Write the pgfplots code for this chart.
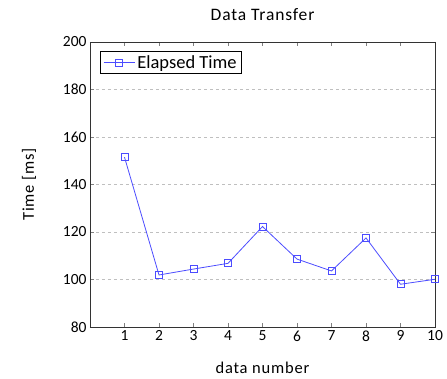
\documentclass[border=0pt]{standalone}
\usepackage{fontspec}
\setmainfont{Carlito}
\newfontfamily\widefont{Carlito}[LetterSpace=5]
\usepackage{pgfplots}
\pgfplotsset{compat=1.18}
\begin{document}
\begin{tikzpicture}
\path[use as bounding box] (-90pt,-51pt) rectangle (357pt,327pt);
\begin{axis}[
  at={(0,0)}, anchor=south west,
  scale only axis,
  width=345pt, height=285pt,
  xmin=0, xmax=10, ymin=80, ymax=200,
  xtick={1,...,10},
  ytick={80,100,...,200},
  ymajorgrids,
  major grid style={dashed, gray!50},
  title={Data Transfer},
  xlabel={data number},
  ylabel={Time [ms]},
  /pgf/number format/assume math mode=true,
  tick label style={font=\fontsize{15.5}{18}\selectfont},
  label style={font=\widefont\fontsize{16.5}{19}\selectfont},
  title style={font=\widefont\fontsize{17.5}{20}\selectfont, at={(axis description cs:0.5,1)}, anchor=center, yshift=21pt},
  xlabel style={at={(axis description cs:0.5,0)}, anchor=center, yshift=-41pt},
  ylabel style={at={(axis description cs:-0.177,0.5)}, anchor=center},
  legend style={at={(axis description cs:0.029,0.968)}, anchor=north west, font=\fontsize{18.5}{21}\selectfont},
  legend cell align=left,
  legend image code/.code={\draw[mark repeat=2,mark phase=2] plot coordinates {(0cm,0cm)(0.55cm,0cm)(1.1cm,0cm)};},
  axis line style={black!80},
]
\addplot[color=blue!70, mark=square, mark size=3.5pt, thick] coordinates {
(1,151.5) (2,101.9) (3,104.4) (4,106.8) (5,122.3) (6,108.6) (7,103.6) (8,117.5) (9,98.0) (10,100.1)
};
\addlegendentry{Elapsed Time}
\end{axis}
\end{tikzpicture}
\end{document}
